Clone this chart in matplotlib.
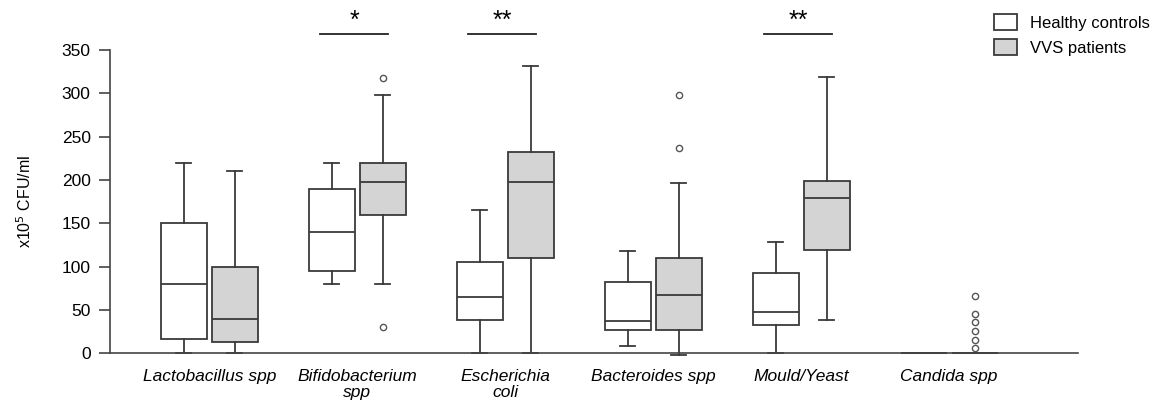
import numpy as np
import matplotlib.pyplot as plt

plt.rcParams['font.family'] = ['Liberation Sans', 'DejaVu Sans']

categories = ['Lactobacillus spp', 'Bifidobacterium\nspp', 'Escherichia\ncoli',
              'Bacteroides spp', 'Mould/Yeast', 'Candida spp']

# healthy controls: whisker low, q1, median, q3, whisker high
hc_lo = [0, 80, 0, 8, 0, 0]
hc_q1 = [17, 95, 38, 27, 33, 0]
hc_med = [80, 140, 65, 37, 48, 0]
hc_q3 = [150, 190, 105, 82, 93, 0]
hc_hi = [220, 220, 165, 118, 128, 0]
hc_fliers = [[], [], [], [], [], []]

# VVS patients
vv_lo = [0, 80, 0, -2, 38, 0]
vv_q1 = [13, 160, 110, 27, 119, 0]
vv_med = [40, 198, 198, 67, 179, 0]
vv_q3 = [100, 220, 232, 110, 199, 0]
vv_hi = [210, 298, 332, 197, 319, 0]
vv_fliers = [[], [30, 318], [], [237, 298], [], [6, 16, 26, 36, 46, 66]]

sig_groups = [1, 2, 4]
sig_labels = ['*', '**', '**']

fig = plt.figure(figsize=(11.59, 4.03), dpi=100)
ax = fig.add_axes([0.095, 0.123, 0.835, 0.753])

x = np.arange(len(categories))
off = 0.172
w = 0.31

def stats(lo, q1, med, q3, hi, fl):
    return [dict(whislo=a, q1=b, med=c, q3=d, whishi=e, fliers=f)
            for a, b, c, d, e, f in zip(lo, q1, med, q3, hi, fl)]

edge = '#3a3a3a'
common = dict(widths=w, patch_artist=True, capwidths=0.1,
              medianprops=dict(color=edge, lw=1.3),
              whiskerprops=dict(color=edge, lw=1.3),
              capprops=dict(color=edge, lw=1.3),
              flierprops=dict(marker='o', markersize=4.5, markerfacecolor='white',
                              markeredgecolor='#555555', markeredgewidth=1))

b1 = ax.bxp(stats(hc_lo, hc_q1, hc_med, hc_q3, hc_hi, hc_fliers), positions=x - off,
            boxprops=dict(facecolor='white', edgecolor=edge, lw=1.3), **common)
b2 = ax.bxp(stats(vv_lo, vv_q1, vv_med, vv_q3, vv_hi, vv_fliers), positions=x + off,
            boxprops=dict(facecolor='#d4d4d4', edgecolor=edge, lw=1.3), **common)
for b in (b1, b2):
    for k in b.values():
        for a in k:
            a.set_clip_on(False)

for g, s in zip(sig_groups, sig_labels):
    ax.plot([g - 0.25, g + 0.21], [368, 368], color='#222222', lw=1.3, clip_on=False)
    ax.text(g - 0.02, 370, s, ha='center', va='bottom', fontsize=18)

ax.set_xlim(-0.67, 5.87)
ax.set_ylim(0, 350)
ax.set_yticks(np.arange(0, 351, 50))
ax.set_xticks(x)
ax.set_xticklabels(categories, style='italic', fontsize=12.5, linespacing=1.1)
ax.tick_params(axis='x', length=0, pad=11)
ax.tick_params(axis='y', length=8, width=1.2, labelsize=12.5, color='#444444', pad=6)
for sp in ('top', 'right'):
    ax.spines[sp].set_visible(False)
for sp in ('left', 'bottom'):
    ax.spines[sp].set_color('#444444')
    ax.spines[sp].set_linewidth(1.2)
ax.set_ylabel('x10$^5$ CFU/ml', fontsize=11.5, labelpad=20)

ax.legend([b1['boxes'][0], b2['boxes'][0]], ['Healthy controls', 'VVS patients'],
          loc='upper left', bbox_to_anchor=(0.906, 1.14), frameon=False, fontsize=12,
          handlelength=1.4, handleheight=1.1, borderaxespad=0, labelspacing=0.5,
          handletextpad=0.8)

fig.savefig('out.png', dpi=100)
